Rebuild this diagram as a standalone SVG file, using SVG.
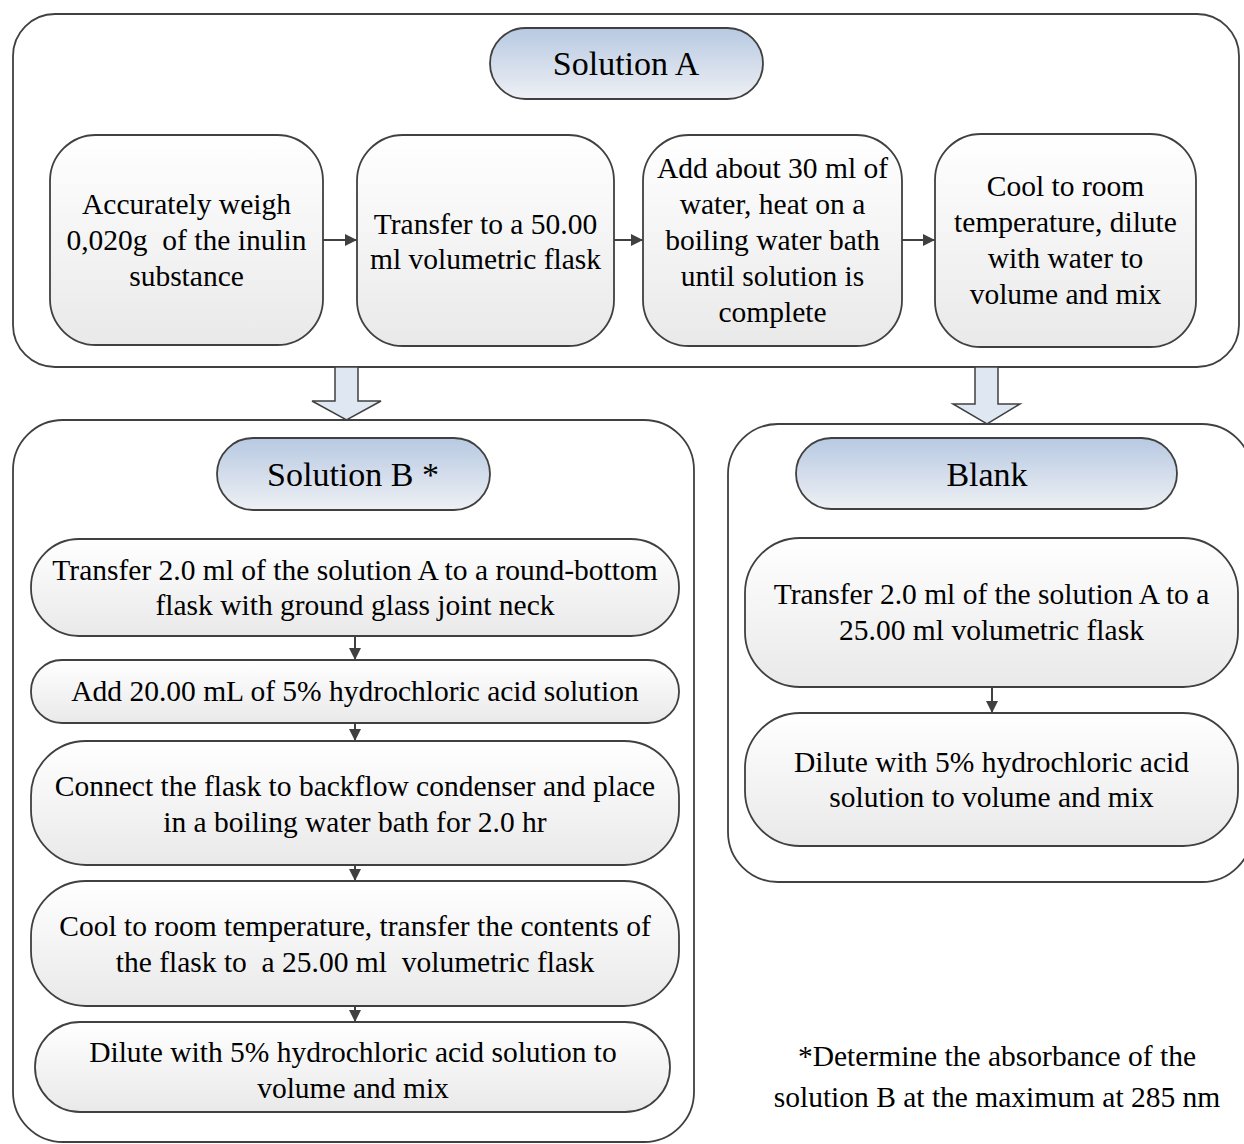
<svg xmlns="http://www.w3.org/2000/svg" width="1244" height="1144" viewBox="0 0 1244 1144">
<defs>
<linearGradient id="gHead" x1="0" y1="0" x2="0" y2="1">
<stop offset="0" stop-color="#b7c9e2"/>
<stop offset="1" stop-color="#eef0f4"/>
</linearGradient>
<linearGradient id="gBox" x1="0" y1="0" x2="0" y2="1">
<stop offset="0" stop-color="#ffffff"/>
<stop offset="1" stop-color="#e9e9e9"/>
</linearGradient>
<marker id="ah" viewBox="0 0 10 10" refX="10" refY="5" markerWidth="12" markerHeight="12" markerUnits="userSpaceOnUse" orient="auto">
<path d="M0,0 L10,5 L0,10 Z" fill="#404040"/>
</marker>
<style>
.cont{fill:#ffffff;stroke:#404040;stroke-width:1.8}
.head{fill:url(#gHead);stroke:#404040;stroke-width:1.8}
.box{fill:url(#gBox);stroke:#404040;stroke-width:1.8}
.blk{fill:#dfe7f2;stroke:#404040;stroke-width:1.5}
.t{font-family:"Liberation Serif","Times New Roman",serif;font-size:29.5px;fill:#000;text-anchor:middle;white-space:pre}
.th{font-family:"Liberation Serif","Times New Roman",serif;font-size:34px;fill:#000;text-anchor:middle}
.c{stroke:#404040;stroke-width:2;fill:none;marker-end:url(#ah)}
</style>
</defs>

<g id="containerA"><rect class="cont" x="13" y="14" width="1226" height="353" rx="42"/></g>
<g id="containerB"><rect class="cont" x="13" y="420" width="681" height="722" rx="50"/></g>
<g id="containerBlank"><rect class="cont" x="728" y="424" width="524" height="458" rx="50"/></g>

<g id="blockArrows">
<path class="blk" d="M335,367 L358,367 L358,401 L381,401 L346.5,420 L312,401 L335,401 Z"/>
<path class="blk" d="M975,367 L998,367 L998,404 L1020,404 L987,424 L953,404 L975,404 Z"/>
</g>

<g id="headA"><rect class="head" x="490" y="28" width="273" height="71" rx="35.5"/><text class="th" x="626" y="75">Solution A</text></g>
<g id="headB"><rect class="head" x="217" y="438" width="273" height="72" rx="36"/><text class="th" x="353" y="486">Solution B *</text></g>
<g id="headBlank"><rect class="head" x="796" y="438" width="381" height="71" rx="35.5"/><text class="th" x="987" y="486">Blank</text></g>

<g id="a1"><rect class="box" x="50" y="135" width="273" height="210" rx="46"/>
<text class="t" x="186.5" y="214">Accurately weigh</text>
<text class="t" x="186.5" y="250" xml:space="preserve">0,020g  of the inulin</text>
<text class="t" x="186.5" y="286">substance</text></g>
<g id="a2"><rect class="box" x="357" y="135" width="257" height="211" rx="46"/>
<text class="t" x="485.5" y="234">Transfer to a 50.00</text>
<text class="t" x="485.5" y="269">ml volumetric flask</text></g>
<g id="a3"><rect class="box" x="643" y="135" width="259" height="211" rx="46"/>
<text class="t" x="772.5" y="178">Add about 30 ml of</text>
<text class="t" x="772.5" y="214">water, heat on a</text>
<text class="t" x="772.5" y="250">boiling water bath</text>
<text class="t" x="772.5" y="286">until solution is</text>
<text class="t" x="772.5" y="322">complete</text></g>
<g id="a4"><rect class="box" x="935" y="134" width="261" height="213" rx="46"/>
<text class="t" x="1065.5" y="196">Cool to room</text>
<text class="t" x="1065.5" y="232">temperature, dilute</text>
<text class="t" x="1065.5" y="268">with water to</text>
<text class="t" x="1065.5" y="304">volume and mix</text></g>

<g id="b1"><rect class="box" x="31" y="539" width="648" height="97" rx="48"/>
<text class="t" x="355" y="580">Transfer 2.0 ml of the solution A to a round-bottom</text>
<text class="t" x="355" y="615">flask with ground glass joint neck</text></g>
<g id="b2"><rect class="box" x="31" y="660" width="648" height="63" rx="31"/>
<text class="t" x="355" y="701">Add 20.00 mL of 5% hydrochloric acid solution</text></g>
<g id="b3"><rect class="box" x="31" y="741" width="648" height="124" rx="55"/>
<text class="t" x="355" y="796">Connect the flask to backflow condenser and place</text>
<text class="t" x="355" y="832">in a boiling water bath for 2.0 hr</text></g>
<g id="b4"><rect class="box" x="31" y="881" width="648" height="125" rx="55"/>
<text class="t" x="355" y="936">Cool to room temperature, transfer the contents of</text>
<text class="t" x="355" y="972" xml:space="preserve">the flask to  a 25.00 ml  volumetric flask</text></g>
<g id="b5"><rect class="box" x="35" y="1022" width="635" height="90" rx="45"/>
<text class="t" x="353" y="1062">Dilute with 5% hydrochloric acid solution to</text>
<text class="t" x="353" y="1098">volume and mix</text></g>

<g id="k1"><rect class="box" x="745" y="538" width="493" height="149" rx="55"/>
<text class="t" x="991.5" y="604">Transfer 2.0 ml of the solution A to a</text>
<text class="t" x="991.5" y="640">25.00 ml volumetric flask</text></g>
<g id="k2"><rect class="box" x="745" y="713" width="493" height="133" rx="55"/>
<text class="t" x="991.5" y="772">Dilute with 5% hydrochloric acid</text>
<text class="t" x="991.5" y="807">solution to volume and mix</text></g>

<g id="note">
<text class="t" x="997" y="1066">*Determine the absorbance of the</text>
<text class="t" x="997" y="1107">solution B at the maximum at 285 nm</text>
</g>

<g id="connectors">
<line class="c" x1="323" y1="240" x2="357" y2="240"/>
<line class="c" x1="614" y1="240" x2="643" y2="240"/>
<line class="c" x1="902" y1="240" x2="935" y2="240"/>
<line class="c" x1="355" y1="636" x2="355" y2="660"/>
<line class="c" x1="355" y1="723" x2="355" y2="741"/>
<line class="c" x1="355" y1="865" x2="355" y2="881"/>
<line class="c" x1="355" y1="1006" x2="355" y2="1022"/>
<line class="c" x1="992" y1="687" x2="992" y2="713"/>
</g>
</svg>
